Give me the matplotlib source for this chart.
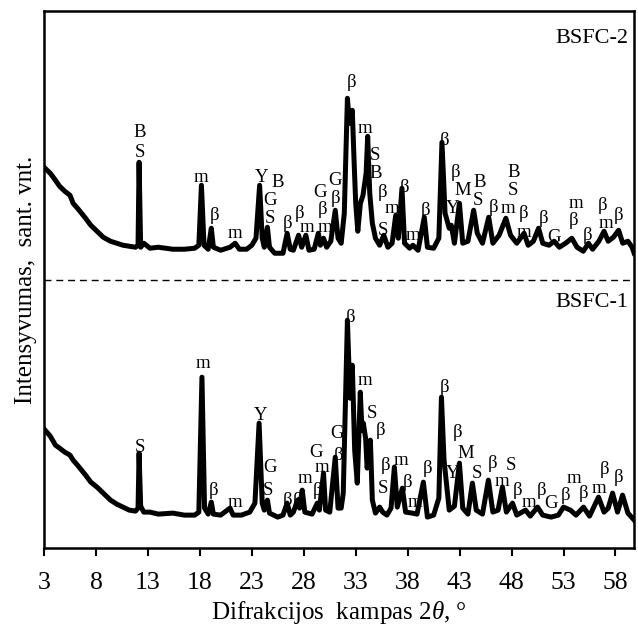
import matplotlib
matplotlib.use('Agg')
import matplotlib.pyplot as plt

plt.rcParams['font.family'] = ['Liberation Serif', 'DejaVu Serif']
plt.rcParams['mathtext.fontset'] = 'custom'
plt.rcParams['mathtext.it'] = 'Liberation Serif:italic'
plt.rcParams['mathtext.rm'] = 'Liberation Serif'

# BSFC-1 (lower trace), 2theta and intensity (arb. units)
tt1 = [3.1, 3.6, 4.1, 4.5, 5.0, 5.5, 5.8, 6.3, 7.0, 7.5, 8.1, 8.7, 9.4, 10.0, 10.6, 11.2,
       11.8, 12.05, 12.15, 12.3, 12.6, 13.2, 14.0, 15.4, 16.5, 17.5, 17.9, 18.2, 18.45, 18.8,
       19.1, 19.3, 20.0, 20.9, 21.2, 22.0, 22.8, 23.3, 23.7, 24.0, 24.2, 24.5, 24.7, 25.5,
       26.0, 26.4, 26.7, 27.0, 27.4, 27.6, 27.85, 28.1, 28.8, 29.3, 29.5, 29.9, 30.1, 30.5,
       31.03, 31.3, 31.6, 31.8, 32.2, 32.45, 32.67, 32.9, 33.15, 33.44, 33.6, 33.73, 33.95,
       34.1, 34.41, 34.6, 34.9, 35.3, 35.6, 36.0, 36.4, 36.72, 37.0, 37.49, 37.8, 38.45,
       38.9, 39.51, 39.9, 40.5, 41.0, 41.25, 41.5, 41.7, 42.0, 42.5, 42.98, 43.3, 43.8, 44.23,
       44.6, 45.2, 45.77, 46.2, 46.7, 47.12, 47.5, 48.09, 48.5, 49.34, 49.8, 50.5, 51.0, 51.8,
       52.5, 53.0, 53.67, 54.2, 54.93, 55.5, 56.37, 56.9, 57.3, 57.72, 58.2, 58.68, 59.2, 59.8]
int1 = [118, 112, 103, 100, 96, 93, 88, 82, 73, 66, 61, 55, 48, 44, 41, 38,
        37, 40, 95, 42, 36, 36, 34, 35, 33, 33, 36, 171, 40, 34,
        46, 34, 33, 40, 33, 33, 36, 45, 125, 45, 38, 48, 35, 31,
        33, 45, 33, 36, 48, 40, 58, 36, 34, 45, 38, 75, 38, 36,
        91, 40, 40, 55, 228, 150, 183, 98, 65, 156, 118, 125, 110,
        80, 108, 48, 35, 41, 36, 33, 40, 81, 41, 60, 36, 35,
        34, 66, 31, 33, 50, 151, 88, 68, 38, 42, 85, 40, 34, 65,
        38, 34, 68, 36, 38, 61, 36, 45, 33, 38, 32, 41, 33, 31,
        33, 41, 38, 33, 41, 32, 51, 36, 40, 55, 36, 53, 35, 28]

# BSFC-2 (upper trace), shifted up by offset2
tt2 = [3.1, 3.6, 4.1, 4.5, 5.0, 5.5, 5.8, 6.3, 7.0, 7.5, 8.1, 8.7, 9.4, 10.0, 10.6, 11.2,
       11.8, 12.05, 12.15, 12.3, 12.6, 13.2, 14.0, 15.4, 16.5, 17.5, 17.9, 18.15, 18.4, 18.8,
       19.1, 19.3, 20.0, 20.9, 21.4, 21.8, 22.5, 23.0, 23.4, 23.75, 24.0, 24.2, 24.5, 24.7,
       25.2, 26.0, 26.4, 26.7, 27.0, 27.5, 27.8, 28.2, 28.5, 29.0, 29.4, 29.6, 29.9, 30.2,
       30.6, 31.03, 31.3, 31.6, 31.9, 32.2, 32.4, 32.67, 32.85, 33.0, 33.2, 33.45, 33.7, 34.0,
       34.15, 34.35, 34.6, 34.9, 35.3, 35.7, 36.1, 36.5, 36.85, 37.1, 37.45, 37.7, 38.2, 38.5,
       39.0, 39.6, 39.9, 40.5, 41.0, 41.3, 41.6, 42.0, 42.2, 42.5, 42.98, 43.3, 43.8, 44.35,
       44.7, 45.2, 45.8, 46.2, 46.8, 47.45, 47.9, 48.5, 49.2, 49.6, 50.1, 50.6, 51.0, 51.6,
       52.1, 52.6, 53.2, 53.8, 54.3, 54.9, 55.4, 55.8, 56.4, 56.9, 57.3, 57.8, 58.3, 58.7,
       59.2, 59.6, 59.8]
int2 = [115, 110, 103, 97, 92, 88, 80, 74, 65, 58, 52, 46, 42, 40, 38, 37,
        36, 38, 121, 36, 40, 35, 36, 34, 34, 35, 38, 98, 38, 34,
        55, 36, 33, 36, 40, 34, 34, 38, 45, 98, 45, 36, 56, 36,
        30, 30, 50, 34, 33, 48, 36, 48, 33, 34, 50, 38, 45, 36,
        42, 73, 45, 40, 70, 185, 160, 173, 120, 80, 52, 80, 88, 110,
        147, 90, 60, 45, 38, 48, 36, 40, 68, 45, 95, 40, 35, 38,
        33, 66, 36, 35, 45, 141, 70, 55, 58, 40, 80, 40, 42, 73,
        50, 40, 66, 40, 48, 65, 48, 40, 50, 38, 42, 55, 40, 38,
        42, 36, 40, 45, 36, 32, 40, 34, 42, 52, 42, 46, 53, 40,
        42, 36, 30]
offset2 = 265

# phase labels: text, 2theta, height
lab2 = ['B', 'S', 'm', 'β', 'm', 'Y', 'B', 'G', 'S', 'β', 'β', 'm', 'G', 'β', 'm', 'G', 'β',
        'β', 'm', 'S', 'B', 'β', 'm', 'S', 'β', 'm', 'β', 'β', 'β', 'M', 'Y', 'B', 'S',
        'β', 'm', 'B', 'S', 'β', 'm', 'β', 'G', 'm', 'β', 'β', 'β', 'm', 'β']
lab2_x = [12.25, 12.25, 18.13, 19.38, 21.40, 23.91, 25.45, 24.77, 24.77, 26.41, 27.57, 28.34,
          29.59, 29.78, 30.07, 31.03, 31.03, 32.58, 33.92, 34.89, 34.89, 35.56, 36.53, 35.66,
          37.68, 38.55, 39.71, 41.54, 42.60, 43.27, 42.31, 44.91, 44.81, 46.26, 47.61, 48.18,
          48.09, 49.15, 49.15, 51.07, 52.04, 54.16, 53.96, 55.31, 56.76, 57.05, 58.30]
lab2_y = [416, 396, 371, 333, 315, 371, 366, 348, 330, 325, 335, 321, 356, 339, 321, 368, 350,
          466, 420, 393, 375, 356, 340, 318, 361, 313, 338, 408, 376, 358, 340, 366, 348,
          341, 340, 376, 358, 335, 316, 330, 311, 345, 328, 313, 343, 325, 333]

lab1 = ['S', 'm', 'β', 'm', 'Y', 'G', 'S', 'β', 'β', 'm', 'β', 'G', 'm', 'G', 'β', 'β', 'm',
        'S', 'β', 'β', 'm', 'S', 'β', 'm', 'β', 'β', 'β', 'M', 'Y', 'S', 'β', 'S', 'm', 'β',
        'm', 'β', 'G', 'β', 'm', 'β', 'β', 'm', 'β']
lab1_x = [12.25, 18.32, 19.28, 21.40, 23.81, 24.77, 24.58, 26.41, 27.37, 28.14, 29.30, 29.20,
          29.78, 31.23, 31.32, 32.48, 33.92, 34.60, 35.37, 35.85, 37.39, 35.66, 37.97, 38.74,
          39.90, 41.54, 42.79, 43.56, 42.31, 44.62, 46.16, 47.95, 47.05, 48.57, 49.63, 50.88,
          51.75, 53.19, 53.96, 54.93, 56.95, 56.4, 58.30]
lab1_y = [101, 185, 58, 46, 133, 81, 58, 48, 48, 70, 58, 96, 81, 115, 93, 231, 168, 135, 118,
          83, 88, 60, 66, 46, 80, 161, 116, 95, 75, 75, 85, 83, 67, 58, 46, 58, 45, 53, 70,
          55, 79, 60, 71]

fig = plt.figure(figsize=(6.38, 6.30), dpi=100)
ax = fig.add_axes([0.069, 0.130, 0.925, 0.852])

ax.plot(tt1, int1, color='black', linewidth=3.6, solid_joinstyle='round')
ax.plot(tt2, [v + offset2 for v in int2], color='black', linewidth=3.6, solid_joinstyle='round')
ax.axhline(268, color='black', linewidth=1.0, linestyle=(0, (5, 3.5)))

for t, x, y in zip(lab2, lab2_x, lab2_y):
    ax.text(x, y, t, fontsize=13.5, ha='center', va='center')
for t, x, y in zip(lab1, lab1_x, lab1_y):
    ax.text(x, y, t, fontsize=13.5, ha='center', va='center')

ax.text(59.2, 510, 'BSFC-2', fontsize=16, ha='right', va='center')
ax.text(59.2, 246, 'BSFC-1', fontsize=16, ha='right', va='center')

ax.set_xlim(3, 59.8)
ax.set_ylim(0, 537)
ax.set_xticks(range(3, 59, 5))
ax.set_yticks([])
ax.tick_params(axis='x', direction='out', length=6, width=1.5, labelsize=18.5, pad=11)
for sp in ax.spines.values():
    sp.set_linewidth(1.8)

ax.set_xlabel('Difrakcijos  kampas 2$\\theta$, °', fontsize=18, labelpad=4)
ax.set_ylabel('Intensyvumas,  sant. vnt.', fontsize=18, labelpad=5)

fig.savefig('out.png', dpi=100)
